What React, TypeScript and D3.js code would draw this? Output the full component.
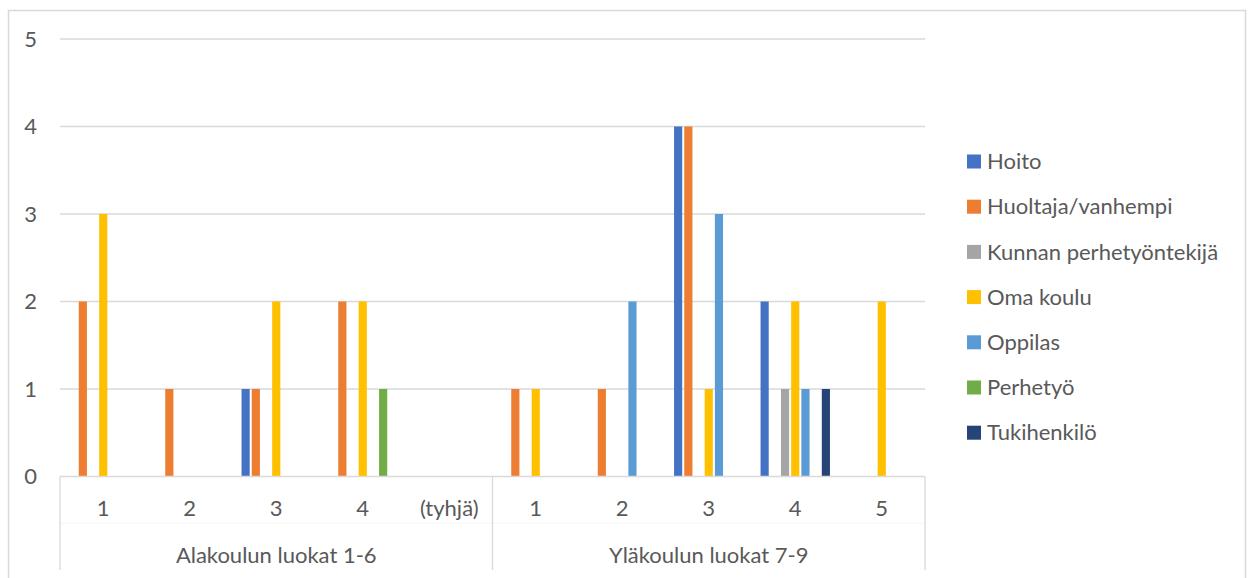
import React from 'react';
import * as d3 from 'd3';

const series = ['Hoito', 'Huoltaja/vanhempi', 'Kunnan perhetyöntekijä', 'Oma koulu', 'Oppilas', 'Perhetyö', 'Tukihenkilö'];
const colors = ['#4472C4', '#ED7D31', '#A5A5A5', '#FFC000', '#5B9BD5', '#70AD47', '#264478'];

const groups = ['Alakoulun luokat 1-6', 'Yläkoulun luokat 7-9'];
const groupCats = [['1', '2', '3', '4', '(tyhjä)'], ['1', '2', '3', '4', '5']];

// values per series, in category order (Alakoulu 1,2,3,4,(tyhjä), Yläkoulu 1..5)
const hoito = [0, 0, 1, 0, 0, 0, 0, 4, 2, 0];
const huoltaja = [2, 1, 1, 2, 0, 1, 1, 4, 0, 0];
const kunnan = [0, 0, 0, 0, 0, 0, 0, 0, 1, 0];
const omaKoulu = [3, 0, 2, 2, 0, 1, 0, 1, 2, 2];
const oppilas = [0, 0, 0, 0, 0, 0, 2, 3, 1, 0];
const perhetyo = [0, 0, 0, 1, 0, 0, 0, 0, 0, 0];
const tukihenkilo = [0, 0, 0, 0, 0, 0, 0, 0, 1, 0];
const values = [hoito, huoltaja, kunnan, omaKoulu, oppilas, perhetyo, tukihenkilo];

const yTicks = [0, 1, 2, 3, 4, 5];

const FONT = 'Lato, "Open Sans", sans-serif';
const TEXT = '#595959';
const GRID = '#d9d9d9';
const FS = 22;

const App = () => {
  const left = 60;
  const right = 925;
  const top = 39;
  const bottom = 476.5;

  const keys = groupCats.flatMap((cats, g) => cats.map((c) => `${g}-${c}`));
  const x0 = d3.scaleBand().domain(keys).range([left, right]).padding(0);
  const inner = x0.bandwidth() * 0.826;
  const x1 = d3
    .scaleBand()
    .domain(series)
    .range([(x0.bandwidth() - inner) / 2, (x0.bandwidth() + inner) / 2])
    .paddingInner(0.2)
    .paddingOuter(0.1);
  const y = d3.scaleLinear().domain([0, 5]).range([bottom, top]);

  const groupEdges = [left, left + x0.step() * groupCats[0].length, right];

  return (
    <svg width={1248} height={578} style={{ position: 'absolute', left: 0, top: 0, background: '#fff' }}>
      <rect x={8.5} y={10.5} width={1237} height={600} fill="#fff" stroke={GRID} strokeWidth={1.5} />

      {yTicks.map((t) => (
        <g key={t}>
          {t > 0 && <line x1={left} x2={right} y1={y(t)} y2={y(t)} stroke={GRID} strokeWidth={1.3} />}
          <text x={37} y={y(t)} dy="0.35em" textAnchor="end" fill={TEXT} fontFamily={FONT} fontSize={FS}>
            {t}
          </text>
        </g>
      ))}

      {values.map((vals, si) =>
        vals.map((v, ci) =>
          v > 0 ? (
            <rect
              key={`${si}-${ci}`}
              x={(x0(keys[ci]) || 0) + (x1(series[si]) || 0)}
              y={y(v)}
              width={x1.bandwidth()}
              height={y(0) - y(v)}
              fill={colors[si]}
            />
          ) : null
        )
      )}

      <line x1={left} x2={right} y1={bottom} y2={bottom} stroke={GRID} strokeWidth={1.3} />
      <line x1={left} x2={right} y1={523} y2={523} stroke="#f6f6f6" strokeWidth={1} />
      {groupEdges.map((e, i) => (
        <line key={i} x1={e} x2={e} y1={bottom} y2={570} stroke={GRID} strokeWidth={1.3} />
      ))}

      {keys.map((k) => (
        <text
          key={k}
          x={(x0(k) || 0) + x0.bandwidth() / 2}
          y={508}
          dy="0.35em"
          textAnchor="middle"
          fill={TEXT}
          fontFamily={FONT}
          fontSize={FS}
        >
          {k.split('-').slice(1).join('-')}
        </text>
      ))}
      {groups.map((g, i) => (
        <text
          key={g}
          x={(groupEdges[i] + groupEdges[i + 1]) / 2}
          y={555}
          dy="0.35em"
          textAnchor="middle"
          fill={TEXT}
          fontFamily={FONT}
          fontSize={FS}
        >
          {g}
        </text>
      ))}

      {series.map((s, i) => (
        <g key={s} transform={`translate(967,${161.5 + i * 45.2})`}>
          <rect x={0} y={-7} width={14} height={14} fill={colors[i]} />
          <text x={20} y={0} dy="0.35em" fill={TEXT} fontFamily={FONT} fontSize={FS}>
            {s}
          </text>
        </g>
      ))}
    </svg>
  );
};

export default App;
